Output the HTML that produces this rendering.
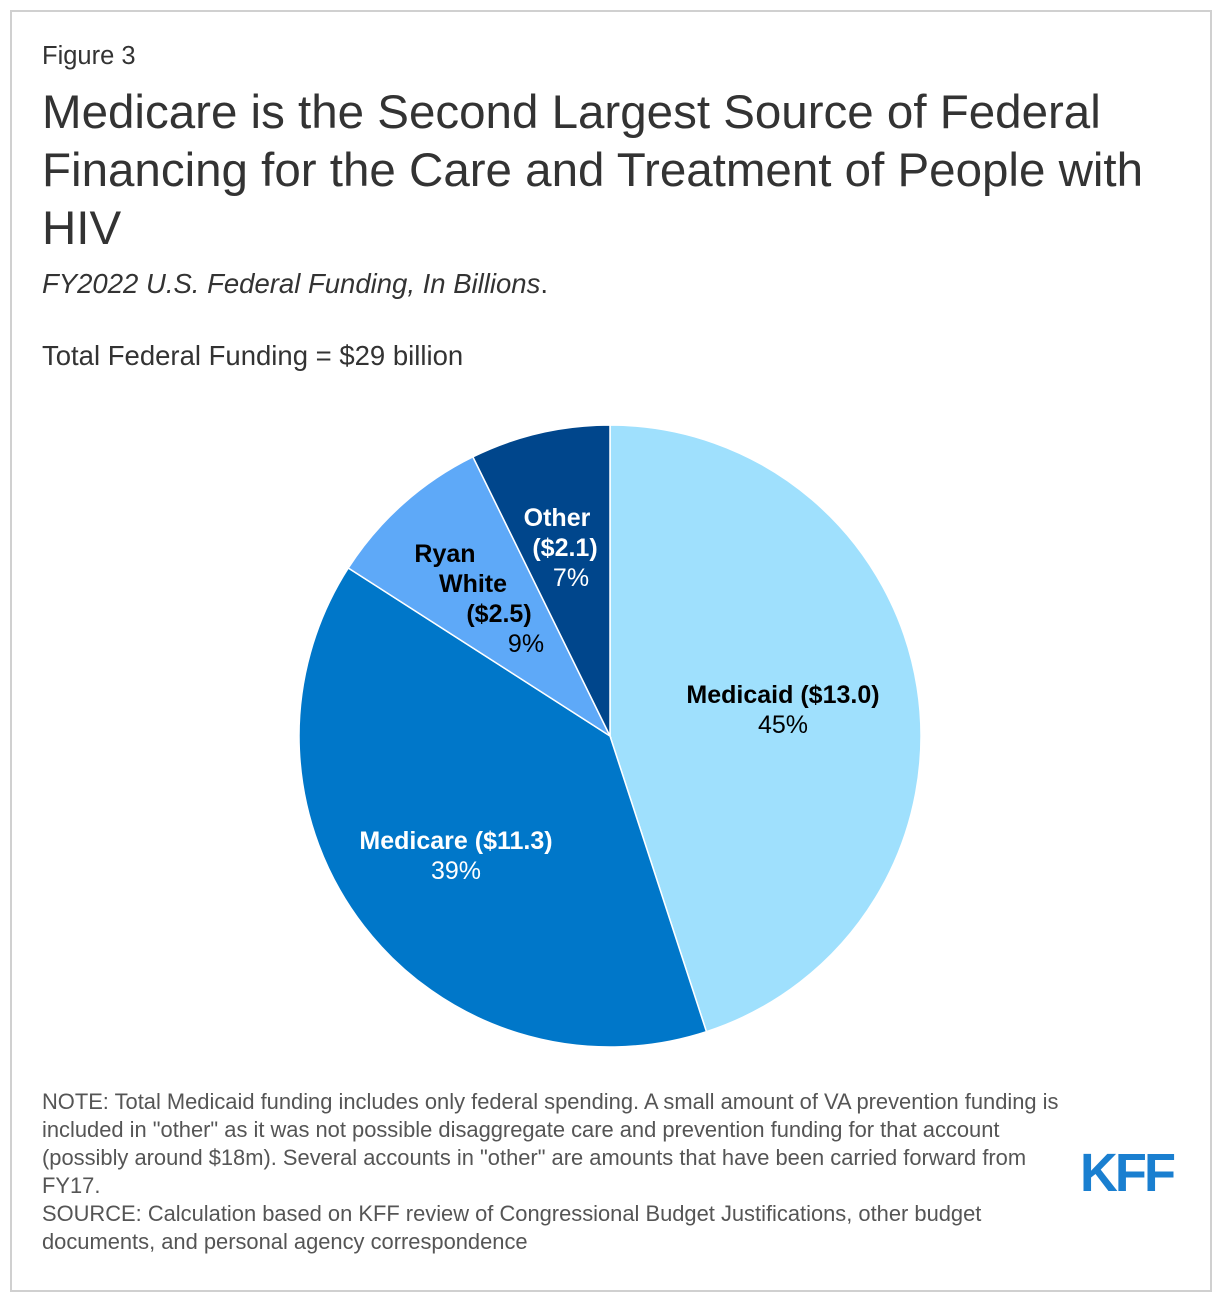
<!DOCTYPE html>
<html><head><meta charset="utf-8">
<style>
body{margin:0;background:#fff;width:1220px;height:1300px;position:relative;font-family:"Liberation Sans",Arial,sans-serif;color:#333;overflow:hidden}
.frame{position:absolute;left:10px;top:10px;width:1198px;height:1278px;border:2px solid #d0d0d0}
.t{position:absolute;left:42px;margin:0}
</style></head><body>
<div class="frame"></div>
<div class="t" style="top:42px;font-size:25.5px">Figure 3</div>
<div class="t" style="top:84px;font-size:47.5px;line-height:58px;width:1130px;color:#333">Medicare is the Second Largest Source of Federal Financing for the Care and Treatment of People with HIV</div>
<div class="t" style="top:268px;font-size:27.5px;font-style:italic">FY2022 U.S. Federal Funding, In Billions<span style="font-style:normal">.</span></div>
<div class="t" style="top:340px;font-size:27.5px">Total Federal Funding = $29 billion</div>
<svg id="pie" width="1220" height="1300" style="position:absolute;left:0;top:0"></svg>
<div class="t" style="top:1088px;font-size:21.9px;line-height:28px;width:1100px;color:#555;white-space:nowrap">NOTE: Total Medicaid funding includes only federal spending. A small amount of VA prevention funding is<br>included in "other" as it was not possible disaggregate care and prevention funding for that account<br>(possibly around $18m). Several accounts in "other" are amounts that have been carried forward from<br>FY17.<br>SOURCE: Calculation based on KFF review of Congressional Budget Justifications, other budget<br>documents, and personal agency correspondence</div>
<div style="position:absolute;left:1080px;top:1142px;font-size:54px;font-weight:bold;color:#1a7fd0;letter-spacing:-3px;transform:scaleX(0.97);transform-origin:left">KFF</div>
<script>
const categories=["Medicaid","Medicare","Ryan White","Other"];
const values=[13.0,11.3,2.5,2.1];
const labels=[["Medicaid ($13.0)","45%"],["Medicare ($11.3)","39%"],["Ryan\nWhite\n($2.5)","9%"],["Other\n($2.1)","7%"]];
const colors=["#9fe0fd","#0077c9","#5ea9f8","#00468c"];
const textColors=["#000","#fff","#000","#fff"];
const labelPos=[[783,694],[456,840],[445,553],[557,517]];
const lineShift=[[0,0],[0,0],[0,28,54,81],[0,8,14]];
const svg=document.getElementById('pie');
const NS='http://www.w3.org/2000/svg';
const cx=610,cy=736,r=311;
const total=values.reduce((a,b)=>a+b,0);
function pt(a){return [cx+r*Math.sin(a),cy-r*Math.cos(a)];}
let a0=0;
values.forEach((v,i)=>{
  const a1=a0+v/total*2*Math.PI;
  const p0=pt(a0),p1=pt(a1);
  const large=(a1-a0)>Math.PI?1:0;
  const p=document.createElementNS(NS,'path');
  p.setAttribute('d',`M${cx},${cy}L${p0[0]},${p0[1]}A${r},${r} 0 ${large} 1 ${p1[0]},${p1[1]}Z`);
  p.setAttribute('fill',colors[i]);p.setAttribute('stroke','#fff');p.setAttribute('stroke-width','1.5');
  
  
  svg.appendChild(p);
  a0=a1;
});
labels.forEach((l,i)=>{
  const lines=l[0].split('\n');
  const [x,y]=labelPos[i];
  const t=document.createElementNS(NS,'text');
  
  
  t.setAttribute('text-anchor','middle');t.setAttribute('fill',textColors[i]);
  t.setAttribute('font-family','Liberation Sans, Arial, sans-serif');t.setAttribute('font-size','25');
  lines.concat([l[1]]).forEach((s,j)=>{
    const ts=document.createElementNS(NS,'tspan');
    ts.setAttribute('x',x+(lineShift[i][j]||0));ts.setAttribute('y',y+9+j*30);
    if(j<lines.length)ts.setAttribute('font-weight','bold');
    ts.textContent=s;t.appendChild(ts);
  });
  svg.appendChild(t);
});
</script>
</body></html>
